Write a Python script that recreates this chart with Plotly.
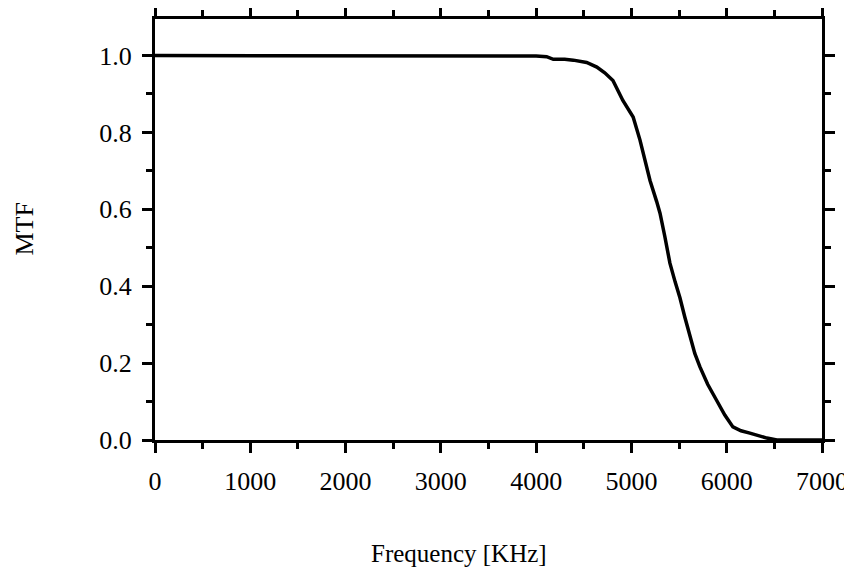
import plotly.graph_objects as go

freq = [0, 500, 1000, 1500, 2000, 2500, 3000, 3500, 4000, 4110, 4180, 4300, 4390, 4530, 4637, 4720, 4806, 4910, 5018, 5090, 5160, 5195, 5265, 5300, 5350, 5404, 5460, 5509, 5560, 5614, 5665, 5719, 5800, 5892, 5980, 6065, 6150, 6243, 6330, 6422, 6527, 6700, 7000]
mtf = [1.0, 1.0, 1.0, 1.0, 1.0, 1.0, 1.0, 1.0, 0.999, 0.997, 0.99, 0.99, 0.988, 0.982, 0.97, 0.955, 0.935, 0.883, 0.84, 0.78, 0.71, 0.675, 0.62, 0.59, 0.53, 0.46, 0.41, 0.37, 0.32, 0.268, 0.225, 0.19, 0.145, 0.104, 0.065, 0.034, 0.024, 0.018, 0.011, 0.005, 0.0, 0.0, 0.0]

x_ticks = [0, 1000, 2000, 3000, 4000, 5000, 6000, 7000]
y_ticks = [0.0, 0.2, 0.4, 0.6, 0.8, 1.0]
y_labels = ["0.0", "0.2", "0.4", "0.6", "0.8", "1.0"]

FONT = "Liberation Serif"

fig = go.Figure()
fig.add_trace(go.Scatter(x=freq, y=mtf, mode="lines",
                         line=dict(color="black", width=3.5), showlegend=False))

fig.update_layout(
    width=844, height=565,
    margin=dict(l=147, r=30, t=11, b=133),
    paper_bgcolor="white", plot_bgcolor="white",
    font=dict(family=FONT, color="black", size=26),
    xaxis=dict(range=[0, 7000], tickvals=x_ticks, ticktext=[str(v) for v in x_ticks],
               automargin=False,
               showgrid=False, zeroline=False, showline=True, linecolor="black", linewidth=3,
               mirror="allticks", ticks="outside", ticklen=10, tickwidth=3, tickcolor="black",
               ticklabelstandoff=6,
               minor=dict(dtick=500, ticks="outside", ticklen=6, tickwidth=3, tickcolor="black", showgrid=False),
               tickfont=dict(family=FONT, size=26)),
    yaxis=dict(range=[0, 1.095], tickvals=y_ticks, ticktext=y_labels,
               automargin=False,
               showgrid=False, zeroline=False, showline=True, linecolor="black", linewidth=3,
               mirror="allticks", ticks="outside", ticklen=10, tickwidth=3, tickcolor="black",
               ticklabelstandoff=5,
               minor=dict(dtick=0.1, ticks="outside", ticklen=6, tickwidth=3, tickcolor="black", showgrid=False),
               tickfont=dict(family=FONT, size=26)),
    annotations=[
        dict(text="Frequency [KHz]", xref="paper", yref="paper", x=0.5, y=0, yshift=-113, xshift=-30,
             showarrow=False, font=dict(family=FONT, size=25), xanchor="center", yanchor="middle"),
        dict(text="MTF", xref="paper", yref="paper", x=0, y=0.5, xshift=-131, textangle=-90,
             showarrow=False, font=dict(family=FONT, size=26), xanchor="center", yanchor="middle"),
    ],
)

fig.write_html("out.html")
